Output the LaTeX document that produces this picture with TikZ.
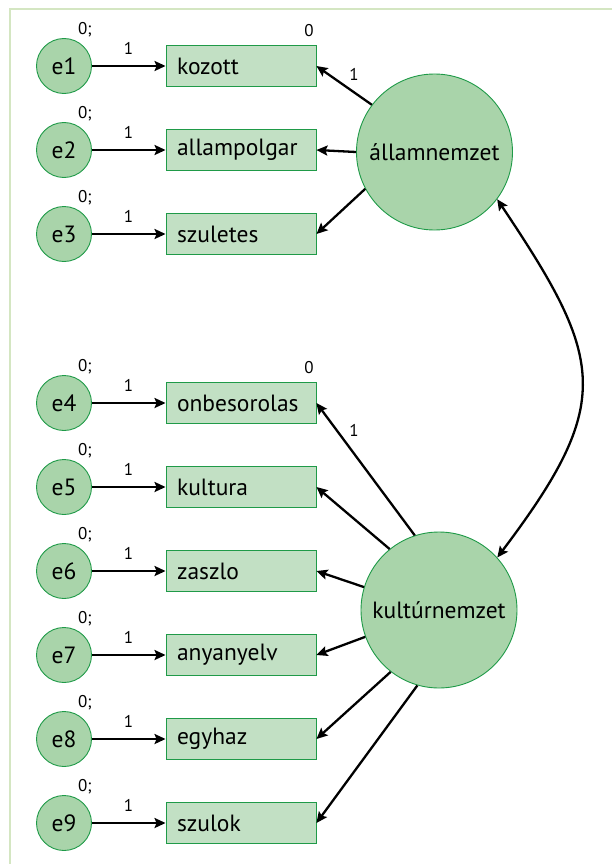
\documentclass[tikz,border=0pt]{standalone}
\usepackage{fontspec}
\setmainfont{PT Sans}
\usetikzlibrary{arrows.meta}
\definecolor{circfill}{HTML}{A9D4AA}
\definecolor{boxfill}{HTML}{C2E0C4}
\definecolor{edgegreen}{HTML}{1F9A48}
\definecolor{framegreen}{HTML}{D4E6C2}
\begin{document}
\begin{tikzpicture}[x=1pt,y=-1pt,
  errc/.style={circle, draw=edgegreen, fill=circfill, line width=0.9pt, minimum size=55pt, inner sep=0pt, font=\fontsize{23.5}{27}\selectfont},
  latent/.style={circle, draw=edgegreen, fill=circfill, line width=0.9pt, minimum size=156pt, inner sep=0pt, font=\fontsize{23.5}{27}\selectfont},
  obsbox/.style={rectangle, draw=edgegreen, fill=boxfill, line width=0.9pt, minimum height=41pt, text width=128pt, inner xsep=11pt, inner ysep=0pt, align=left, font=\fontsize{23.5}{27}\selectfont},
  lab/.style={font=\fontsize{17}{19}\selectfont, inner sep=0pt},
  arr/.style={line width=2.3pt, -{Stealth[length=11pt,width=10pt,inset=2pt]}},
  darr/.style={line width=2.3pt, {Stealth[length=11pt,width=10pt,inset=2pt]}-{Stealth[length=11pt,width=10pt,inset=2pt]}},
]
\useasboundingbox (0,0) rectangle (611,864);
\draw[framegreen, line width=2.5pt] (10,875) -- (10,9) -- (620,9);

% upper group
\node[latent] (A) at (434.5,152) {államnemzet};
\foreach \i/\y/\t in {1/66/kozott, 2/150/allampolgar, 3/234/szuletes}{
  \node[errc] (e\i) at (64,\y) {e\i};
  \node[obsbox] (b\i) at (241,\y) {\t};
  \draw[arr] (e\i) -- (b\i);
  \node[lab] (z\i) at (85,\y-36) {0;};
  \node[lab] (o\i) at (128.5,\y-18) {1};
}
% lower group
\node[latent] (K) at (439,610) {kultúrnemzet};
\foreach \i/\y/\t in {4/403/onbesorolas, 5/487/kultura, 6/571/zaszlo, 7/655/anyanyelv, 8/739/egyhaz, 9/823/szulok}{
  \node[errc] (e\i) at (64,\y) {e\i};
  \node[obsbox] (b\i) at (241,\y) {\t};
  \draw[arr] (e\i) -- (b\i);
  \node[lab] (z\i) at (85,\y-36) {0;};
  \node[lab] (o\i) at (128.5,\y-18) {1};
}

\node[lab] (m1) at (309,31) {0};
\node[lab] (m4) at (309,368) {0};

\draw[arr] (A.143) -- (b1.east);
\draw[arr] (A.180) -- (b2.east);
\draw[arr] (A.208) -- (b3.east);
\node[lab] (l1) at (354,74) {1};

\draw[arr] (K.108) -- (b4.east);
\draw[arr] (K.129) -- (b5.east);
\draw[arr] (K.163) -- (b6.east);
\draw[arr] (K.200) -- (b7.east);
\draw[arr] (K.232) -- (b8.east);
\draw[arr] (K.254) -- (b9.east);
\node[lab] (l4) at (354,430) {1};

\draw[darr] (A.-37) .. controls +(108,161) and +(117,-155) .. (K.42);
\end{tikzpicture}
\end{document}
